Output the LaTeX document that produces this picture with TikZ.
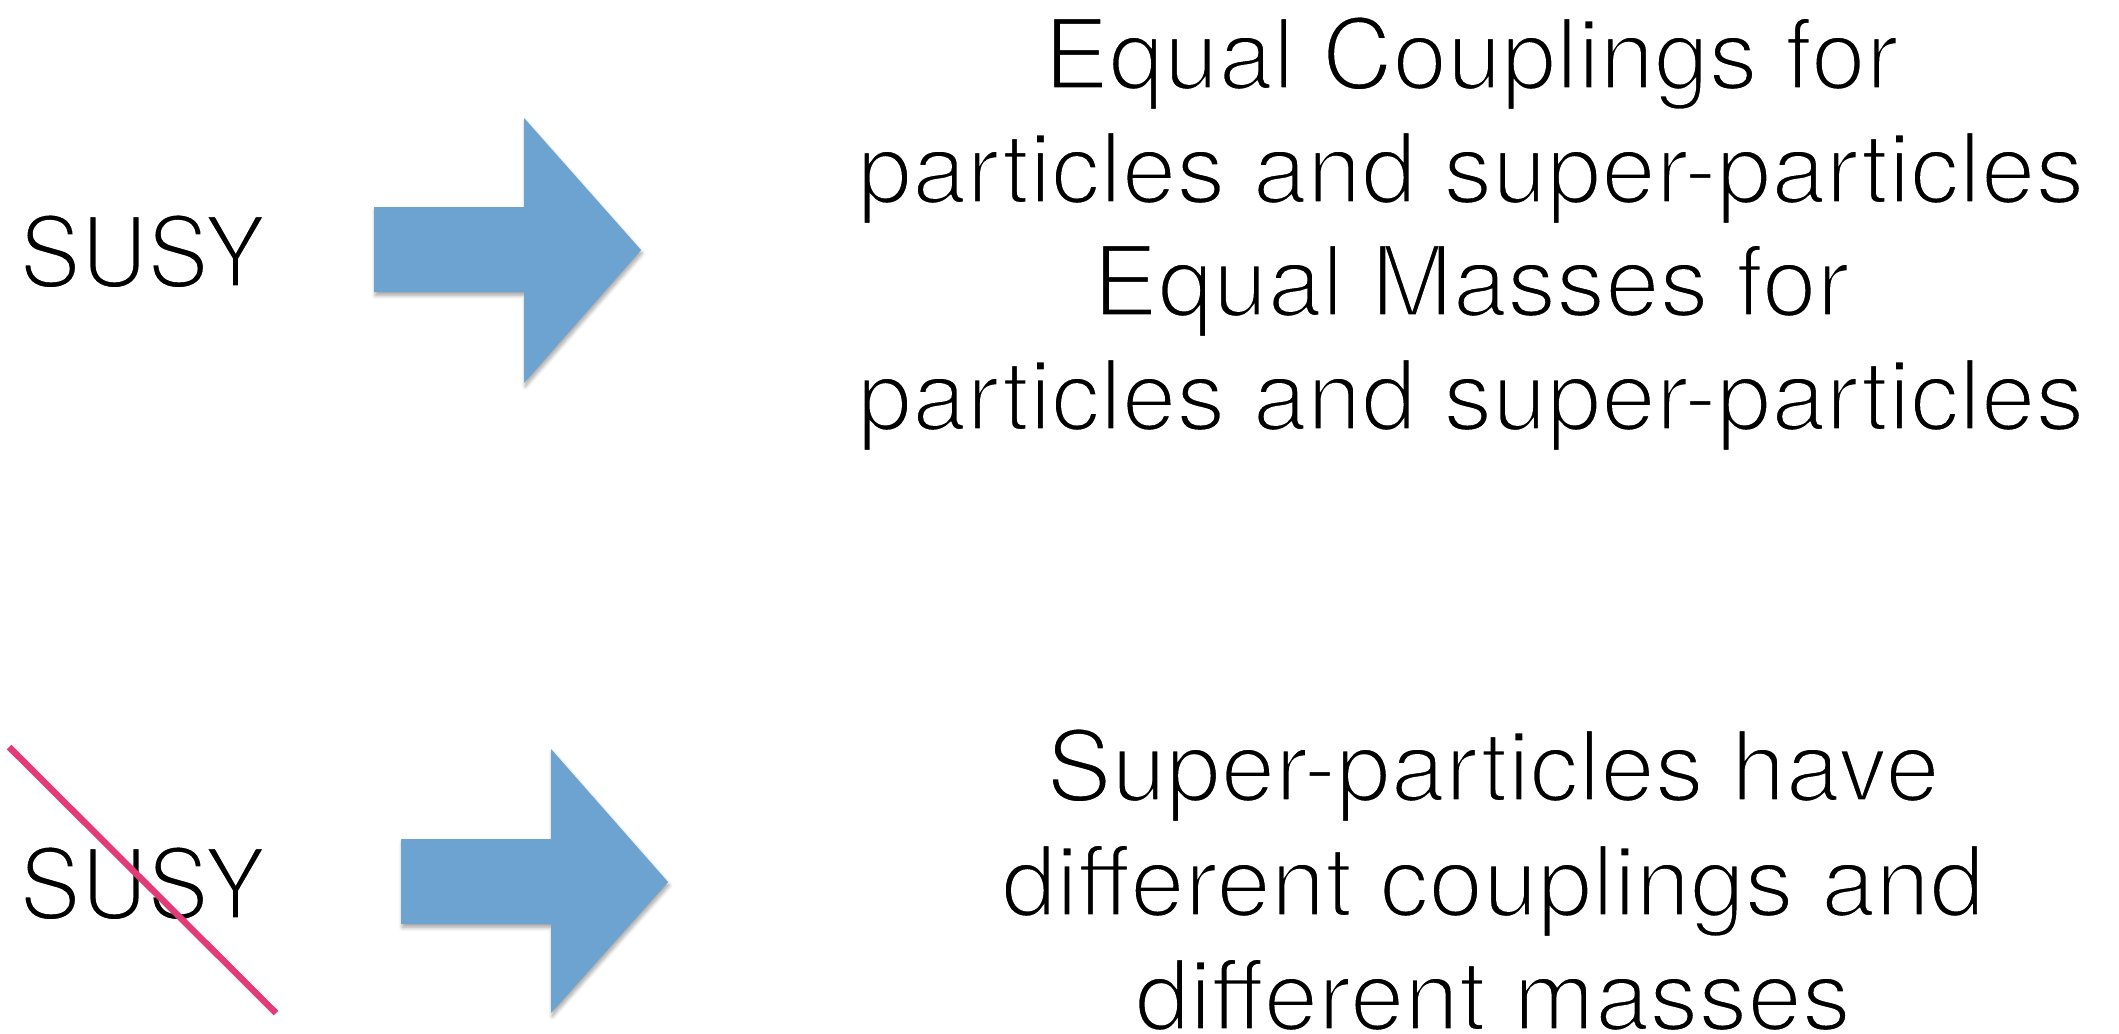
\documentclass[tikz,border=0pt]{standalone}
\usepackage{fontspec}
\setmainfont{TeX Gyre Heros}
\newfontfamily\susyfont{TeX Gyre Heros}[FakeStretch=0.94]
\usetikzlibrary{shadows.blur}
\definecolor{arrowblue}{RGB}{108,163,208}
\definecolor{strikepink}{RGB}{228,58,122}
\newcommand{\thintext}[1]{\special{pdf:literal direct 2 Tr 1 G 1.6 w}#1\special{pdf:literal direct 0 Tr}}
\begin{document}
\begin{tikzpicture}[x=0.5pt,y=-0.5pt,
  txt/.style={inner sep=0pt, anchor=base, font=\fontsize{49pt}{60pt}\selectfont},
  lbl/.style={txt, anchor=base west, font=\fontsize{49pt}{60pt}\susyfont},
  bigarrow/.style={fill=arrowblue, draw=none,
    blur shadow={shadow xshift=0.6pt, shadow yshift=-1.8pt, shadow blur radius=1.8pt, shadow blur steps=6, shadow opacity=35}},
  strike/.style={draw=strikepink, line width=3.2pt}]
\useasboundingbox (0,0) rectangle (2119,1033);
% top row
\node[lbl] (susyA) at (19,287) {\thintext{SUSY}};
\path[bigarrow] (374,207) -- (524,207) -- (524,118) -- (641,250) -- (524,383) -- (524,292) -- (374,292) -- cycle;
\node[txt] (tA1) at (1471,89) {\thintext{Equal Couplings for}};
\node[txt] (tA2) at (1471,203) {\thintext{particles and super-particles}};
\node[txt] (tA3) at (1471,316) {\thintext{Equal Masses for}};
\node[txt] (tA4) at (1471,430) {\thintext{particles and super-particles}};
% bottom row
\node[lbl] (susyB) at (19,919) {\thintext{SUSY}};
\coordinate (sA) at (9,747);
\coordinate (sB) at (276,1013);
\draw[strike] (sA) -- (sB);
\path[bigarrow] (401,839) -- (551,839) -- (551,749) -- (668,882) -- (551,1013) -- (551,924) -- (401,924) -- cycle;
\node[txt] (tB1) at (1493,801) {\thintext{Super-particles have}};
\node[txt] (tB2) at (1493,916) {\thintext{different couplings and}};
\node[txt] (tB3) at (1493,1030) {\thintext{different masses}};
\end{tikzpicture}
\end{document}
